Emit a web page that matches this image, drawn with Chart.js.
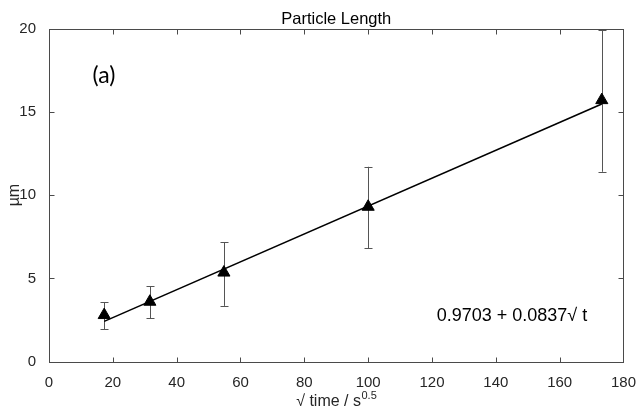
<!DOCTYPE html>
<html>
<head>
<meta charset="utf-8">
<script src="https://cdn.jsdelivr.net/npm/chart.js@4.4.1/dist/chart.umd.min.js"></script>
<style>
  html, body { margin: 0; padding: 0; background: #ffffff; }
  #wrap { width: 640px; height: 418px; position: relative; }
</style>
</head>
<body>
<div id="wrap"><canvas id="c" width="640" height="418"></canvas></div>
<script>
// ---- data ----
const xVals   = [17.3, 31.6, 54.8, 100, 173.2];   // sqrt(time) / s^0.5
const yVals   = [2.80, 3.60, 5.35, 9.30, 15.70];  // mean length, µm
const errLow  = [1.95, 2.60, 3.35, 6.80, 11.40];
const errHigh = [3.56, 4.53, 7.18, 11.70, 19.90];
const fitX    = [17.3, 173.2];
const fitY    = [2.42, 15.47];
const xTicks  = [0, 20, 40, 60, 80, 100, 120, 140, 160, 180];
const yTicks  = [0, 5, 10, 15, 20];

const titleText = 'Particle Length';
const yTitle = 'µm';
const xTitleMain = '√ time / s';
const xTitleSup = '0.5';
const panelLabel = '(a)';
const equation = '0.9703 + 0.0837√ t';

const FONT = '"Liberation Sans", Arial, sans-serif';
const TXT = '#262626';

const decor = {
  id: 'decor',
  beforeDatasetsDraw(chart) {
    const ctx = chart.ctx, a = chart.chartArea;
    const xs = chart.scales.x, ys = chart.scales.y;
    ctx.save();
    // error bars
    ctx.strokeStyle = '#555555';
    ctx.lineWidth = 1;
    for (let i = 0; i < xVals.length; i++) {
      const px = Math.round(xs.getPixelForValue(xVals[i])) + 0.5;
      const pLo = ys.getPixelForValue(errLow[i]);
      const pHi = ys.getPixelForValue(errHigh[i]);
      ctx.beginPath();
      ctx.moveTo(px, pLo); ctx.lineTo(px, pHi);
      ctx.moveTo(px - 4, Math.round(pLo) + 0.5); ctx.lineTo(px + 4, Math.round(pLo) + 0.5);
      ctx.moveTo(px - 4, Math.round(pHi) + 0.5); ctx.lineTo(px + 4, Math.round(pHi) + 0.5);
      ctx.stroke();
    }
    // box
    ctx.strokeStyle = '#4a4a4a';
    ctx.lineWidth = 1;
    const L = Math.round(a.left) + 0.5, R = Math.round(a.right) + 0.5;
    const T = Math.round(a.top) + 0.5, B = Math.round(a.bottom) + 0.5;
    ctx.strokeRect(L, T, R - L, B - T);
    // inward ticks
    ctx.beginPath();
    xTicks.forEach(v => {
      const px = Math.round(xs.getPixelForValue(v)) + 0.5;
      ctx.moveTo(px, B); ctx.lineTo(px, B - 5);
      ctx.moveTo(px, T); ctx.lineTo(px, T + 5);
    });
    yTicks.forEach(v => {
      const py = Math.round(ys.getPixelForValue(v)) + 0.5;
      ctx.moveTo(L, py); ctx.lineTo(L + 5, py);
      ctx.moveTo(R, py); ctx.lineTo(R - 5, py);
    });
    ctx.stroke();
    ctx.restore();
  },
  afterDraw(chart) {
    const ctx = chart.ctx, a = chart.chartArea;
    const cx = (a.left + a.right) / 2;
    ctx.save();
    ctx.fillStyle = '#000000';
    // title
    ctx.font = '16.5px ' + FONT;
    ctx.textAlign = 'center';
    ctx.textBaseline = 'alphabetic';
    ctx.fillText(titleText, cx, 24);
    // x title with superscript
    ctx.fillStyle = TXT;
    ctx.font = '16px ' + FONT;
    const wMain = ctx.measureText(xTitleMain).width;
    ctx.font = '11px ' + FONT;
    const wSup = ctx.measureText(xTitleSup).width;
    const x0 = cx - (wMain + wSup) / 2;
    ctx.textAlign = 'left';
    ctx.font = '16px ' + FONT;
    ctx.fillText(xTitleMain, x0, 406);
    ctx.font = '11px ' + FONT;
    ctx.fillText(xTitleSup, x0 + wMain + 0.5, 399);
    // y title
    ctx.save();
    ctx.translate(19, (a.top + a.bottom) / 2);
    ctx.rotate(-Math.PI / 2);
    ctx.textAlign = 'center';
    ctx.font = '16px ' + FONT;
    ctx.fillText(yTitle, 0, 0);
    ctx.restore();
    // panel label
    ctx.fillStyle = '#000000';
    ctx.font = '23px Lato, "Open Sans", sans-serif';
    ctx.textAlign = 'center';
    ctx.fillText(panelLabel, 104, 83);
    // equation
    ctx.font = '18px ' + FONT;
    ctx.fillText(equation, 512, 321);
    ctx.restore();
  }
};

new Chart(document.getElementById('c'), {
  type: 'scatter',
  data: {
    datasets: [
      {
        type: 'line',
        data: fitX.map((x, i) => ({ x: x, y: fitY[i] })),
        borderColor: '#000000',
        borderWidth: 1.6,
        pointRadius: 0,
        fill: false,
        tension: 0
      },
      {
        type: 'scatter',
        data: xVals.map((x, i) => ({ x: x, y: yVals[i] })),
        pointStyle: 'triangle',
        pointRadius: 7,
        backgroundColor: '#000000',
        borderColor: '#000000',
        borderWidth: 1
      }
    ]
  },
  options: {
    responsive: false,
    animation: false,
    devicePixelRatio: 1,
    layout: { padding: { top: 28.5, right: 13, left: 0, bottom: 0 } },
    plugins: { legend: { display: false }, title: { display: false }, tooltip: { enabled: false } },
    scales: {
      x: {
        type: 'linear', min: 0, max: 180,
        afterBuildTicks: s => { s.ticks = xTicks.map(v => ({ value: v })); },
        afterFit: s => { s.height = 56.3; },
        grid: { display: false },
        border: { display: false },
        ticks: { color: TXT, font: { family: FONT, size: 15 }, padding: 4, maxRotation: 0, autoSkip: false }
      },
      y: {
        type: 'linear', min: 0, max: 20,
        afterBuildTicks: s => { s.ticks = yTicks.map(v => ({ value: v })); },
        afterFit: s => { s.width = 49; },
        grid: { display: false },
        border: { display: false },
        ticks: { color: TXT, font: { family: FONT, size: 15 }, padding: 5, autoSkip: false }
      }
    }
  },
  plugins: [decor]
});
</script>
</body>
</html>
